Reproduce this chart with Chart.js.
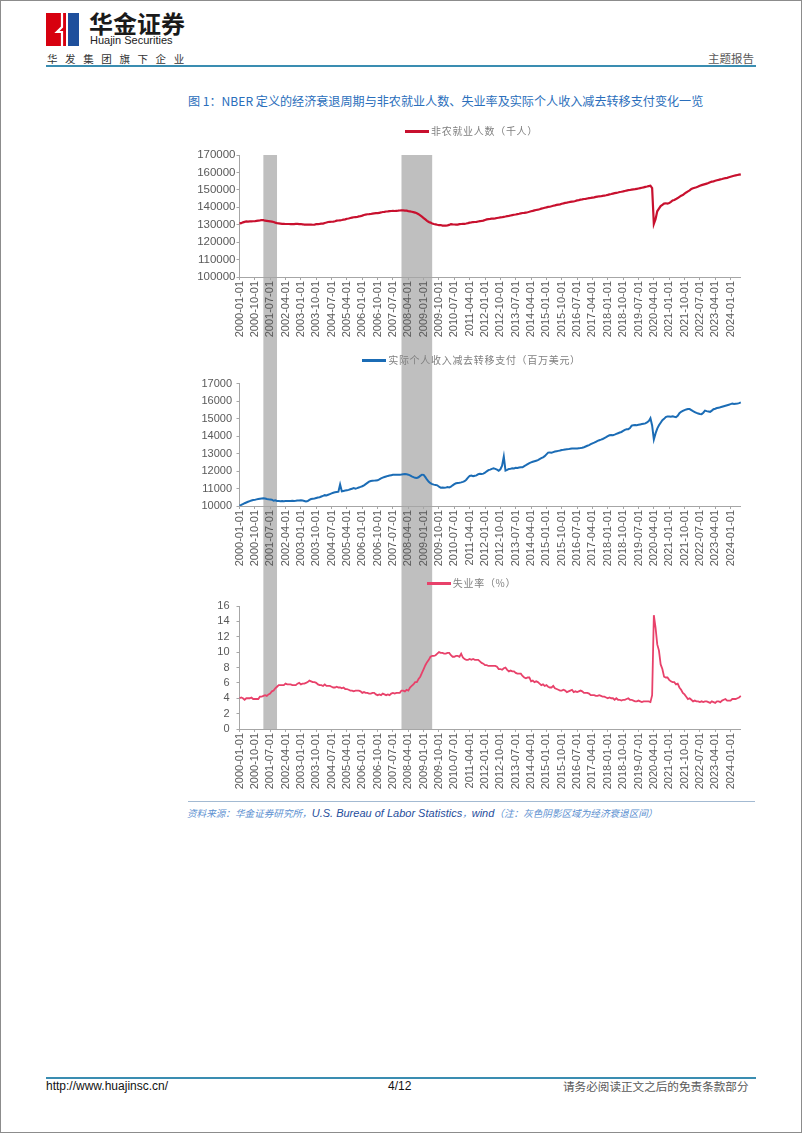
<!DOCTYPE html>
<html lang="zh-CN">
<head>
<meta charset="utf-8">
<title>图 1：NBER 定义的经济衰退周期</title>
<script src="https://cdn.jsdelivr.net/npm/chart.js@4.4.1/dist/chart.umd.min.js"></script>
<style>
  html, body { margin: 0; padding: 0; background: #fff; }
  #page { position: relative; width: 802px; height: 1133px; overflow: hidden;
          font-family: "Noto Sans CJK SC", "Liberation Sans", sans-serif; }
  .frame { position: absolute; left: 0; top: 0; width: 802px; height: 1133px;
           box-sizing: border-box; border: 1px solid #8c8c8c; pointer-events: none; }
  .abs { position: absolute; white-space: nowrap; }
  canvas.chart { position: absolute; }
  .legend { position: absolute; left: 188px; width: 567px; text-align: center;
            font-size: 10px; letter-spacing: 0.7px; color: #808080; line-height: 14px; z-index: 2; }
  .legend .sw { display: inline-block; width: 24px; height: 2.5px; vertical-align: middle;
                margin-right: 2px; position: relative; top: -1px; }
  .rule { position: absolute; }
</style>
</head>
<body>
<div id="page">
  <!-- header -->
  <svg class="abs" style="left:46px;top:13px" width="33" height="33" viewBox="0 0 33 33">
    <rect x="0" y="0" width="20" height="33" fill="#d7000f"/>
    <rect x="22" y="0" width="11" height="33" fill="#1e4f9c"/>
    <path d="M16 0 L16 14 L11 19 L16 19 L16 33" stroke="#fff" stroke-width="2.2" fill="none"/>
  </svg>
  <div class="abs" style="left:89px;top:10px;font-size:24px;line-height:26px;font-weight:700;color:#1a1a1a">华金证券</div>
  <div class="abs" style="left:90px;top:34px;font-size:11px;line-height:13px;font-family:'Liberation Sans',Arial,sans-serif;color:#222">Huajin Securities</div>
  <div class="abs" style="left:47px;top:52px;font-size:10.5px;line-height:13px;letter-spacing:7.6px;color:#333">华发集团旗下企业</div>
  <div class="abs" style="left:708px;top:51px;font-size:11.5px;line-height:14px;color:#595959">主题报告</div>
  <div class="rule" style="left:46px;top:65px;width:710px;height:2px;background:#3a8db1"></div>

  <!-- title -->
  <div class="abs" style="left:188px;top:93px;font-size:12.1px;line-height:16px;color:#2a6ebb">图 1：NBER 定义的经济衰退周期与非农就业人数、失业率及实际个人收入减去转移支付变化一览</div>

  <!-- legends -->
  <div class="legend" style="top:124px"><span class="sw" style="background:#c8102e"></span>非农就业人数（千人）</div>
  <div class="legend" style="top:353px"><span class="sw" style="background:#1b6cb5"></span>实际个人收入减去转移支付（百万美元）</div>
  <div class="legend" style="top:576px"><span class="sw" style="background:#e8416a"></span>失业率（%）</div>

  <canvas class="chart" id="payrollChart" width="567" height="205" style="left:188px;top:140px"></canvas>
  <canvas class="chart" id="incomeChart" width="567" height="225" style="left:188px;top:345px"></canvas>
  <canvas class="chart" id="unrateChart" width="567" height="225" style="left:188px;top:570px"></canvas>

  <!-- source note -->
  <div class="rule" style="left:188px;top:801px;width:567px;height:1px;background:#a3bad2"></div>
  <div class="abs" style="left:187px;top:806px;line-height:14px;font-style:italic;color:#5b8fd0;font-size:9.6px">资料来源：华金证券研究所，<span style="font-family:'Liberation Sans',Arial,sans-serif;font-size:11px;color:#1f4e9c">U.S. Bureau of Labor Statistics</span>，<span style="font-family:'Liberation Sans',Arial,sans-serif;font-size:11px;color:#1f4e9c">wind</span>（注：灰色阴影区域为经济衰退区间）</div>

  <!-- footer -->
  <div class="rule" style="left:46px;top:1077px;width:710px;height:1.5px;background:#3a8db1"></div>
  <div class="abs" style="left:46px;top:1079px;font-size:12px;line-height:14px;font-family:'Liberation Sans',Arial,sans-serif;color:#111">http://www.huajinsc.cn/</div>
  <div class="abs" style="left:388px;top:1079px;font-size:12px;line-height:14px;font-family:'Liberation Sans',Arial,sans-serif;color:#111">4/12</div>
  <div class="abs" style="left:563px;top:1079px;font-size:11.6px;line-height:14px;color:#595959">请务必阅读正文之后的免责条款部分</div>

  <div class="frame"></div>
</div>

<script>
// monthly categories, 2000-01 .. 2024-07
const months = [];
for (let y = 2000; y <= 2024; y++) {
  for (let m = 1; m <= 12; m++) {
    if (y === 2024 && m > 7) break;
    months.push(y + '-' + String(m).padStart(2, '0') + '-01');
  }
}

// NBER recessions (start, end)
const recessions = [
  ['2001-03-01', '2001-11-01'],
  ['2007-12-01', '2009-06-01'],
];

// 非农就业人数（千人）
const payrolls = [
  130780,130900,131370,131660,131880,131800,131960,131870,131990,131990,132220,132350,
  132500,132700,132600,132300,132250,132100,131950,131800,131550,131200,130900,130750,
  130620,130500,130480,130420,130420,130420,130350,130370,130310,130430,130470,130320,
  130400,130240,130030,130010,130010,130010,130010,129990,130100,130300,130330,130450,
  130600,130650,131000,131240,131560,131650,131710,131810,132000,132350,132420,132540,
  132680,132920,133060,133410,133590,133840,134090,134280,134350,134440,134780,134940,
  135220,135540,135830,136000,136050,136130,136340,136470,136620,136630,136830,137040,
  137280,137360,137580,137660,137810,137880,137910,137870,137960,138040,138150,138180,
  138200,138090,138040,137810,137620,137450,137240,136970,136520,136040,135310,134610,
  133810,133040,132230,131550,131210,130740,130410,130210,129960,129780,129800,129520,
  129520,129490,129650,129890,130350,130210,130130,130090,130030,130300,130420,130440,
  130480,130670,130890,131210,131320,131530,131550,131640,131850,132050,132180,132380,
  132740,133040,133250,133320,133440,133510,133660,133840,134020,134180,134300,134530,
  134710,134960,135080,135290,135520,135700,135870,136090,136280,136540,136730,136790,
  136980,137140,137400,137700,137920,138250,138450,138630,138880,139210,139470,139740,
  139940,140210,140300,140570,140890,141100,141360,141520,141660,142000,142220,142520,
  142650,142890,143120,143280,143320,143610,143960,144140,144390,144540,144750,144800,
  145050,145250,145370,145540,145700,145950,146120,146310,146330,146540,146740,146890,
  147100,147400,147600,147850,148100,148300,148500,148750,148900,149100,149350,149600,
  149800,149900,150100,150300,150400,150600,150800,151000,151200,151400,151700,151900,
  152150,152400,150950,130400,133100,137700,139200,140700,141400,142100,142300,142150,
  142400,143100,143900,144200,144700,145300,146000,146600,147000,147800,148500,149100,
  149700,150500,150900,151200,151500,151900,152400,152700,153000,153300,153600,153900,
  154400,154700,154900,155200,155500,155700,156000,156200,156500,156700,156900,157200,
  157500,157800,158100,158300,158500,158700,158900
];

// 实际个人收入减去转移支付（百万美元）
const realIncome = [
  10020,10060,10110,10160,10200,10240,10280,10310,10340,10350,10380,10400,
  10420,10430,10440,10430,10400,10380,10370,10360,10300,10330,10290,10280,
  10270,10280,10270,10280,10290,10290,10280,10300,10290,10300,10320,10310,
  10330,10310,10290,10260,10280,10350,10400,10420,10430,10460,10490,10500,
  10540,10580,10620,10600,10640,10680,10720,10760,10780,10800,10820,11230,
  10840,10860,10880,10900,10920,10960,10990,11020,10990,11020,11060,11090,
  11130,11180,11250,11320,11390,11430,11440,11450,11460,11470,11520,11580,
  11620,11660,11690,11720,11740,11760,11780,11790,11790,11780,11790,11800,
  11820,11830,11810,11790,11750,11690,11650,11610,11600,11640,11720,11790,
  11780,11650,11500,11380,11300,11250,11220,11200,11180,11100,11050,11060,
  11040,11050,11080,11060,11100,11180,11250,11300,11320,11330,11350,11380,
  11420,11500,11620,11720,11740,11700,11730,11750,11820,11840,11830,11850,
  11900,11980,12050,12080,12120,12150,12120,12080,12020,12100,12300,12820,
  12020,12060,12120,12130,12150,12140,12180,12170,12200,12220,12210,12280,
  12330,12390,12450,12490,12530,12560,12590,12620,12680,12730,12780,12850,
  12950,13050,13060,13040,13080,13110,13130,13150,13170,13200,13210,13230,
  13240,13250,13270,13290,13290,13280,13290,13300,13310,13330,13360,13400,
  13440,13480,13530,13580,13620,13670,13720,13760,13790,13830,13880,13930,
  13990,14040,14060,14050,14080,14120,14160,14200,14230,14290,14350,14380,
  14390,14450,14590,14620,14630,14620,14640,14660,14680,14700,14720,14780,
  14850,15020,14600,13800,14150,14420,14610,14760,14900,14980,15080,15120,
  15120,15100,15130,15100,15080,15150,15300,15380,15430,15480,15520,15540,
  15540,15480,15420,15370,15320,15290,15260,15250,15330,15450,15420,15400,
  15380,15450,15530,15560,15600,15620,15640,15670,15700,15730,15760,15790,
  15820,15850,15830,15840,15850,15880,15920
];

// 失业率（%）
const unrate = [
  4.0,4.1,4.0,3.8,4.0,4.0,4.0,4.1,3.9,3.9,3.9,3.9,
  4.2,4.2,4.3,4.4,4.3,4.5,4.6,4.9,5.0,5.3,5.5,5.7,
  5.7,5.7,5.7,5.9,5.8,5.8,5.8,5.7,5.7,5.7,5.9,6.0,
  5.8,5.9,5.9,6.0,6.1,6.3,6.2,6.1,6.1,6.0,5.8,5.7,
  5.7,5.6,5.8,5.6,5.6,5.6,5.5,5.4,5.4,5.5,5.4,5.4,
  5.3,5.4,5.2,5.2,5.1,5.0,5.0,4.9,5.0,5.0,5.0,4.9,
  4.7,4.8,4.7,4.7,4.6,4.6,4.7,4.7,4.5,4.4,4.5,4.4,
  4.6,4.5,4.4,4.5,4.4,4.6,4.7,4.6,4.7,4.7,4.7,5.0,
  5.0,4.9,5.1,5.0,5.4,5.6,5.8,6.1,6.1,6.5,6.8,7.3,
  7.8,8.3,8.7,9.0,9.4,9.5,9.5,9.6,9.8,10.0,9.9,9.9,
  9.8,9.8,9.9,9.9,9.6,9.4,9.4,9.5,9.5,9.4,9.8,9.3,
  9.1,9.0,9.0,9.1,9.0,9.1,9.0,9.0,9.0,8.8,8.6,8.5,
  8.3,8.3,8.2,8.2,8.2,8.2,8.2,8.1,7.8,7.8,7.7,7.9,
  8.0,7.7,7.5,7.6,7.5,7.5,7.3,7.2,7.2,7.2,6.9,6.7,
  6.6,6.7,6.7,6.2,6.3,6.1,6.2,6.1,5.9,5.7,5.8,5.6,
  5.7,5.5,5.4,5.4,5.6,5.3,5.2,5.1,5.0,5.0,5.1,5.0,
  4.8,4.9,5.0,5.1,4.8,4.9,4.8,4.9,5.0,4.9,4.7,4.7,
  4.7,4.6,4.4,4.4,4.4,4.3,4.3,4.4,4.3,4.2,4.2,4.1,
  4.0,4.1,4.0,4.0,3.8,4.0,3.8,3.8,3.7,3.8,3.8,3.9,
  4.0,3.8,3.8,3.7,3.6,3.6,3.7,3.6,3.5,3.6,3.6,3.6,
  3.6,3.5,4.4,14.8,13.2,11.0,10.2,8.4,7.8,6.8,6.7,6.7,
  6.4,6.2,6.1,6.1,5.8,5.9,5.4,5.1,4.7,4.5,4.2,3.9,
  4.0,3.8,3.6,3.7,3.6,3.6,3.5,3.6,3.5,3.6,3.6,3.5,
  3.4,3.6,3.5,3.4,3.6,3.6,3.5,3.7,3.8,3.9,3.7,3.7,
  3.7,3.9,3.9,3.9,4.0,4.1,4.3
];

const axisGray = '#a6a6a6';
const tickText = '#595959';

// grey recession bands; each canvas fills its own slice so the bands run through all three
const recessionShade = {
  id: 'recessionShade',
  beforeDraw(chart, args, opts) {
    const { ctx, chartArea, scales } = chart;
    const x = scales.x;
    const top = opts.top === 'area' ? chartArea.top : 0;
    const bottom = opts.bottom === 'area' ? chartArea.bottom : chart.height;
    ctx.save();
    ctx.fillStyle = '#bfbfbf';
    recessions.forEach(([s, e]) => {
      const x1 = x.getPixelForValue(months.indexOf(s));
      const x2 = x.getPixelForValue(months.indexOf(e));
      ctx.fillRect(x1, top, x2 - x1, bottom - top);
    });
    ctx.restore();
  }
};

function makeChart(id, values, color, lineWidth, y, layout) {
  const ctx = document.getElementById(id).getContext('2d');
  return new Chart(ctx, {
    type: 'line',
    data: {
      labels: months,
      datasets: [{
        data: values,
        borderColor: color,
        borderWidth: lineWidth,
        pointRadius: 0,
        tension: 0,
        fill: false
      }]
    },
    options: {
      responsive: false,
      animation: false,
      layout: { padding: { top: layout.padTop, right: 12.5, left: 0, bottom: 0 } },
      plugins: {
        legend: { display: false },
        tooltip: { enabled: false },
        recessionShade: { top: layout.bandTop, bottom: layout.bandBottom }
      },
      scales: {
        x: {
          type: 'category',
          offset: false,
          grid: {
            drawOnChartArea: false,
            tickLength: 3,
            color: c => (c.index % 9 === 0 ? axisGray : 'rgba(0,0,0,0)')
          },
          border: { color: axisGray },
          ticks: {
            autoSkip: false,
            minRotation: 90,
            maxRotation: 90,
            padding: 1,
            color: tickText,
            font: { family: "'Liberation Sans', Arial, sans-serif", size: 11 },
            callback: (v, i) => (i % 9 === 0 ? months[i] : '')
          },
          afterFit: s => { s.height = layout.xHeight; }
        },
        y: {
          min: y.min,
          max: y.max,
          grid: { drawOnChartArea: false, tickLength: 3, color: axisGray },
          border: { color: axisGray },
          ticks: {
            stepSize: y.step,
            autoSkip: false,
            padding: layout.yPad,
            color: tickText,
            font: { family: "'Liberation Sans', Arial, sans-serif", size: layout.yFont },
            callback: v => String(v)
          },
          afterFit: s => { s.width = 51.5; }
        }
      }
    },
    plugins: [recessionShade]
  });
}

makeChart('payrollChart', payrolls, '#c8102e', 2.2,
  { min: 100000, max: 170000, step: 10000 },
  { padTop: 15, xHeight: 68, yPad: 1, yFont: 11.5, bandTop: 'area', bandBottom: 'canvas' });

makeChart('incomeChart', realIncome, '#1b6cb5', 2,
  { min: 10000, max: 17000, step: 1000 },
  { padTop: 38.5, xHeight: 64, yPad: 4.5, yFont: 11, bandTop: 'canvas', bandBottom: 'canvas' });

makeChart('unrateChart', unrate, '#e8416a', 1.8,
  { min: 0, max: 16, step: 2 },
  { padTop: 36, xHeight: 66, yPad: 7, yFont: 11, bandTop: 'canvas', bandBottom: 'area' });
</script>
</body>
</html>
